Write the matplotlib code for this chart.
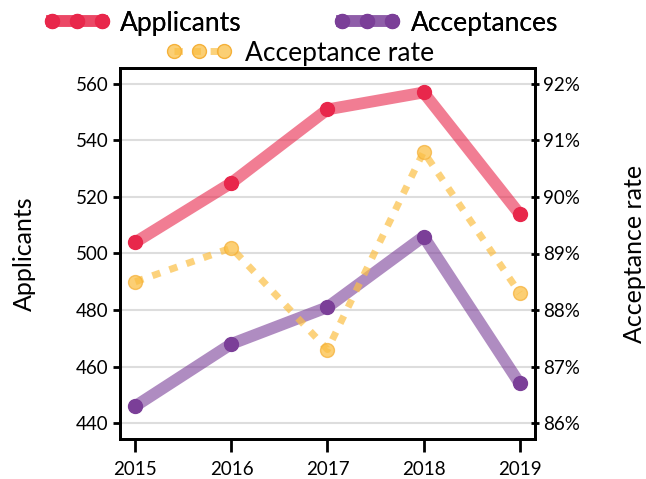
import matplotlib
matplotlib.use("Agg")
import matplotlib.pyplot as plt
from matplotlib.ticker import FuncFormatter
from matplotlib.lines import Line2D

plt.rcParams['font.family'] = ['Lato', 'DejaVu Sans']

years = [2015, 2016, 2017, 2018, 2019]
applicants = [504, 525, 551, 557, 514]
acceptances = [446, 468, 481, 506, 454]
acceptance_rate = [88.5, 89.1, 87.3, 90.8, 88.3]

left_ticks = [440, 460, 480, 500, 520, 540, 560]
right_ticks = [86, 87, 88, 89, 90, 91, 92]

red = '#e8274b'
purple = '#7b3f98'
orange = '#fbbf45'

fig = plt.figure(figsize=(6.46, 4.79), dpi=100)
ax = fig.add_axes([120/646, 1-439/479, 415/646, 371/479])
ax2 = ax.twinx()

ax.grid(axis='y', color='#dddddd', lw=1.5)
ax.set_axisbelow(True)

ax.plot(years, applicants, color=red, lw=8.5, alpha=0.6, solid_capstyle='butt', zorder=3)
ax.plot(years, applicants, 'o', color=red, ms=10, zorder=4)
ax.plot(years, acceptances, color=purple, lw=8.5, alpha=0.6, solid_capstyle='butt', zorder=3)
ax.plot(years, acceptances, 'o', color=purple, ms=10, zorder=4)
ax2.plot(years, acceptance_rate, color=orange, lw=5, alpha=0.7, linestyle=(0, (1.2, 1.4)),
         dash_capstyle='butt', zorder=3)
ax2.plot(years, acceptance_rate, 'o', color=orange, alpha=0.75, ms=10, mec='#f5b13a', zorder=4)

ax.set_xlim(2014.84, 2019.16)
ax2.set_ylim(86 - 0.283, 92 + 0.283)
ax.set_ylim(440 - 5.66, 560 + 5.66)

ax.set_yticks(left_ticks)
ax.set_xticks(years)
ax2.set_yticks(right_ticks)
ax2.yaxis.set_major_formatter(FuncFormatter(lambda v, p: f"{v:.0f}%"))

for a in (ax, ax2):
    for s in a.spines.values():
        s.set_linewidth(2)
        s.set_color('black')

ax.tick_params(axis='x', direction='out', length=9, width=2, labelsize=13.5, pad=7)
ax.tick_params(axis='y', direction='out', length=5, width=2, labelsize=13.5, pad=3)
ax2.tick_params(axis='y', direction='inout', length=6, width=2, labelsize=13.5, pad=3)

ax.set_ylabel('Applicants', fontsize=18, labelpad=29)
ax2.set_ylabel('Acceptance rate', fontsize=18, labelpad=31)

h1 = Line2D([], [], color=(0.91, 0.15, 0.29, 0.6), lw=8.5, marker='o', ms=10, mfc=red, mec=red)
h2 = Line2D([], [], color=(0.48, 0.25, 0.6, 0.6), lw=8.5, marker='o', ms=10, mfc=purple, mec=purple)
h3 = Line2D([], [], color=(0.98, 0.75, 0.27, 0.7), lw=5, linestyle=(0, (1.2, 1.4)), marker='o', ms=10,
            mfc=(0.98, 0.75, 0.27, 0.75), mec='#f5b13a')

leg1 = fig.legend([h1, h2], ['Applicants', 'Acceptances'], ncol=2, loc='center',
                  bbox_to_anchor=(0.466, 1-23/479), frameon=False, fontsize=19, numpoints=3,
                  handlelength=2.5, columnspacing=3.5, handletextpad=0.4, borderpad=0)
leg2 = fig.legend([h3], ['Acceptance rate'], loc='center', bbox_to_anchor=(0.465, 1-53/479),
                  frameon=False, fontsize=19, numpoints=3, handlelength=2.5, handletextpad=0.5,
                  borderpad=0)
fig.add_artist(leg1)

fig.savefig('out.png', dpi=100)
